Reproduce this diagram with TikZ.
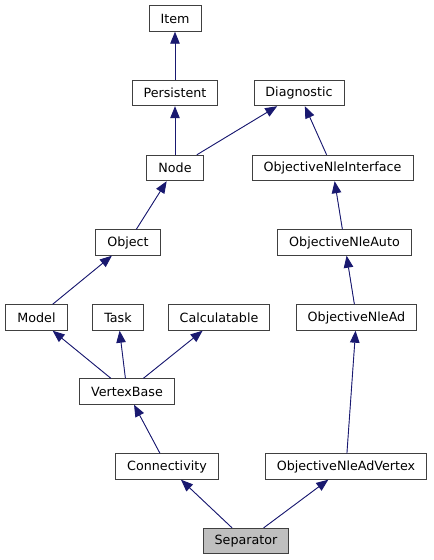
\documentclass[tikz,border=0pt]{standalone}
\usepackage{fontspec}
\setmainfont{DejaVu Sans}
\usetikzlibrary{arrows.meta}
\definecolor{navy}{RGB}{25,25,112}
\tikzset{
  cls/.style ={draw=black!75, line width=0.9pt, fill=white, minimum height=25.5pt,
               inner xsep=11.5pt, inner ysep=0pt, font=\fontsize{12.7}{15}\selectfont},
  cur/.style ={cls, fill=black!25},
  inh/.style ={-{Triangle[length=12pt,width=9.5pt]}, draw=navy, fill=navy, line width=0.9pt},
}
\begin{document}
\begin{tikzpicture}[x=1pt,y=-1pt]
\useasboundingbox (0,0) rectangle (434,560);
\node[cls] (item) at (175,18.5) {Item};
\node[cls] (pers) at (175,93) {Persistent};
\node[cls] (diag) at (299,93) {Diagnostic};
\node[cls] (node) at (175,168) {Node};
\node[cls] (oni) at (332.5,168) {ObjectiveNleInterface};
\node[cls] (obj) at (128,242.5) {Object};
\node[cls] (onauto) at (344.5,242.5) {ObjectiveNleAuto};
\node[cls] (model) at (36.5,317.5) {Model};
\node[cls] (task) at (118,317.5) {Task};
\node[cls] (calc) at (219,317.5) {Calculatable};
\node[cls] (onad) at (356.5,317.5) {ObjectiveNleAd};
\node[cls] (vbase) at (127,391.5) {VertexBase};
\node[cls] (conn) at (167,466.5) {Connectivity};
\node[cls] (onadv) at (346,466.5) {ObjectiveNleAdVertex};
\node[cur] (sep) at (246,541) {Separator};
\draw[inh] (pers) -- (item);
\draw[inh] (node) -- (pers); \draw[inh] (node) -- (diag);
\draw[inh] (oni) -- (diag);
\draw[inh] (obj) -- (node);
\draw[inh] (onauto) -- (oni);
\draw[inh] (model) -- (obj);
\draw[inh] (onad) -- (onauto);
\draw[inh] (vbase) -- (model); \draw[inh] (vbase) -- (task); \draw[inh] (vbase) -- (calc);
\draw[inh] (onadv) -- (onad);
\draw[inh] (conn) -- (vbase);
\draw[inh] (sep) -- (conn); \draw[inh] (sep) -- (onadv);
\end{tikzpicture}
\end{document}
